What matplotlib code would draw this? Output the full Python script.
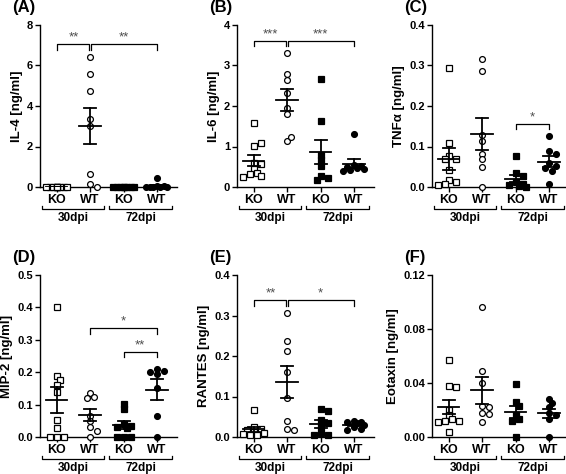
import numpy as np
import matplotlib
matplotlib.use('Agg')
import matplotlib.pyplot as plt

plt.rcParams.update({
    'font.family': ['Liberation Sans', 'DejaVu Sans'],
    'font.weight': 'bold',
    'axes.labelweight': 'bold',
    'axes.linewidth': 1.0,
})

groups = ['KO', 'WT', 'KO', 'WT']
days = ['30dpi', '72dpi']

# values, ng/ml
il4_ko30 = [0, 0, 0, 0, 0, 0, 0, 0, 0, 0]
il4_wt30 = [6.4, 5.58, 4.76, 3.37, 3.0, 0.66, 0.15, 0.0]
il4_ko72 = [0, 0, 0, 0, 0, 0, 0, 0]
il4_wt72 = [0.44, 0.05, 0.03, 0.02, 0.01, 0.0, 0.0, 0.0]

il6_ko30 = [1.58, 1.02, 1.08, 0.6, 0.58, 0.45, 0.35, 0.33, 0.26, 0.25]
il6_wt30 = [3.32, 2.79, 2.64, 2.32, 1.95, 1.81, 1.13, 1.23]
il6_ko72 = [2.66, 1.62, 0.80, 0.66, 0.52, 0.28, 0.22, 0.18]
il6_wt72 = [1.31, 0.55, 0.52, 0.50, 0.47, 0.45, 0.42, 0.40]

tnf_ko30 = [0.293, 0.108, 0.077, 0.070, 0.068, 0.042, 0.018, 0.012, 0.008, 0.004]
tnf_wt30 = [0.315, 0.287, 0.129, 0.114, 0.082, 0.068, 0.05, 0.0]
tnf_ko72 = [0.077, 0.034, 0.027, 0.012, 0.008, 0.004, 0.002, 0.0]
tnf_wt72 = [0.125, 0.088, 0.082, 0.06, 0.052, 0.048, 0.04, 0.007]

mip_ko30 = [0.402, 0.188, 0.175, 0.16, 0.14, 0.052, 0.028, 0.0, 0.0, 0.0]
mip_wt30 = [0.137, 0.125, 0.12, 0.065, 0.048, 0.03, 0.02, 0.0]
mip_ko72 = [0.103, 0.085, 0.04, 0.035, 0.03, 0.028, 0.0, 0.0, 0.0]
mip_wt72 = [0.21, 0.205, 0.2, 0.195, 0.15, 0.066, 0.0]

ran_ko30 = [0.066, 0.025, 0.02, 0.018, 0.012, 0.01, 0.008, 0.005, 0.005]
ran_wt30 = [0.305, 0.237, 0.212, 0.16, 0.096, 0.04, 0.02, 0.017]
ran_ko72 = [0.068, 0.065, 0.042, 0.035, 0.025, 0.01, 0.006, 0.004]
ran_wt72 = [0.04, 0.038, 0.036, 0.035, 0.03, 0.025, 0.02, 0.018]

eot_ko30 = [0.057, 0.038, 0.037, 0.02, 0.016, 0.013, 0.012, 0.012, 0.011, 0.004]
eot_wt30 = [0.096, 0.049, 0.04, 0.023, 0.022, 0.018, 0.017, 0.011]
eot_ko72 = [0.039, 0.026, 0.023, 0.016, 0.013, 0.012, 0.0]
eot_wt72 = [0.028, 0.025, 0.022, 0.018, 0.016, 0.013, 0.0]

panels = [
    ('(A)', 'IL-4 [ng/ml]', [il4_ko30, il4_wt30, il4_ko72, il4_wt72], 8, 2, '%d',
     [(0, 1, 7.05, '**'), (1, 3, 7.05, '**')]),
    ('(B)', 'IL-6 [ng/ml]', [il6_ko30, il6_wt30, il6_ko72, il6_wt72], 4, 1, '%d',
     [(0, 1, 3.61, '***'), (1, 3, 3.61, '***')]),
    ('(C)', 'TNFα [ng/ml]', [tnf_ko30, tnf_wt30, tnf_ko72, tnf_wt72], 0.4, 0.1, '%.1f',
     [(2, 3, 0.156, '*')]),
    ('(D)', 'MIP-2 [ng/ml]', [mip_ko30, mip_wt30, mip_ko72, mip_wt72], 0.5, 0.1, '%.1f',
     [(1, 3, 0.335, '*'), (2, 3, 0.263, '**')]),
    ('(E)', 'RANTES [ng/ml]', [ran_ko30, ran_wt30, ran_ko72, ran_wt72], 0.4, 0.1, '%.1f',
     [(0, 1, 0.338, '**'), (1, 3, 0.338, '*')]),
    ('(F)', 'Eotaxin [ng/ml]', [eot_ko30, eot_wt30, eot_ko72, eot_wt72], 0.12, 0.04, '%.2f',
     []),
]

W, H = 566, 474
ax_w, ax_h = 137, 162
lefts = [40, 237, 432]
bottoms = [H - 187, H - 437]
xlim = (-0.5, 3.6)
markers = [('s', 'white'), ('o', 'white'), ('s', 'black'), ('o', 'black')]


def swarm(vals, ymax, d=5.0, step=3.5, maxoff=10.5):
    # simple beeswarm in pixel space
    py = ax_h / ymax
    px = ax_w / (xlim[1] - xlim[0])
    cands = [0.0]
    k = 1
    while k * step <= maxoff:
        cands += [k * step, -k * step]
        k += 1
    placed, offs = [], []
    for v in vals:
        y = v * py
        best, bestd = 0.0, -1
        for c in cands:
            md = min([np.hypot(c - a, y - b) for a, b in placed], default=1e9)
            if md >= d:
                best = c
                break
            if md > bestd:
                best, bestd = c, md
        placed.append((best, y))
        offs.append(best)
    return np.array(offs) / px


fig = plt.figure(figsize=(W / 100, H / 100), dpi=100)

for i, (tag, ylab, series, ymax, ystep, fmt, sig) in enumerate(panels):
    l = lefts[i % 3]
    b = bottoms[i // 3]
    ax = fig.add_axes([l / W, b / H, ax_w / W, ax_h / H])
    for j, vals in enumerate(series):
        vals = np.array(vals, dtype=float)
        xs = j + swarm(vals, ymax)
        mk, fc = markers[j]
        ax.plot(xs, vals, mk, ms=4.2 if mk == 'o' else 4.0, mfc=fc, mec='black',
                mew=0.9, ls='none', clip_on=False, zorder=3)
        m = vals.mean()
        se = vals.std(ddof=1) / np.sqrt(len(vals))
        ax.plot([j - 0.32, j + 0.32], [m, m], color='black', lw=1.3, zorder=4)
        ax.plot([j, j], [m - se, m + se], color='black', lw=1.3, zorder=4)
        for yy in (m - se, m + se):
            ax.plot([j - 0.18, j + 0.18], [yy, yy], color='black', lw=1.3, zorder=4)
    # significance brackets
    drop = ymax * 0.035
    for (a, c, yb, stars) in sig:
        a2 = a + 0.04 if a == 1 and any(s[1] == 1 for s in sig) else a
        c2 = c - 0.04 if c == 1 and any(s[0] == 1 for s in sig) else c
        ax.plot([a2, a2, c2, c2], [yb - drop, yb, yb, yb - drop], color='black',
                lw=0.9, clip_on=False)
        ax.text((a + c) / 2, yb + ymax * 0.005, stars, ha='center', va='bottom',
                fontsize=9.5, fontweight='normal', color='0.3')
    ax.set_xlim(xlim)
    ax.set_ylim(0, ymax)
    ticks = np.arange(0, ymax + ystep / 2, ystep)
    ax.set_yticks(ticks)
    ax.set_yticklabels([fmt % t for t in ticks], fontsize=8)
    ax.set_xticks(range(4))
    ax.set_xticklabels(groups, fontsize=9)
    ax.tick_params(axis='both', length=3.5, width=1.0, pad=1.5)
    ax.spines['top'].set_visible(False)
    ax.spines['right'].set_visible(False)
    ax.set_ylabel(ylab, fontsize=9.5, labelpad=3)
    # day group brackets below the axis
    tr = ax.get_xaxis_transform()
    for (x0, x1), day in zip([(-0.45, 1.42), (1.57, 3.45)], days):
        ax.plot([x0, x0, x1, x1], [-0.117, -0.136, -0.136, -0.117], color='black',
                lw=0.9, transform=tr, clip_on=False)
        ax.text((x0 + x1) / 2, -0.152, day, transform=tr, ha='center', va='top',
                fontsize=8.5)
    ax.text(-0.2, 1.105, tag, transform=ax.transAxes, ha='left', va='center',
            fontsize=12, fontweight='bold')

fig.savefig('out.png', dpi=100, facecolor='white')
